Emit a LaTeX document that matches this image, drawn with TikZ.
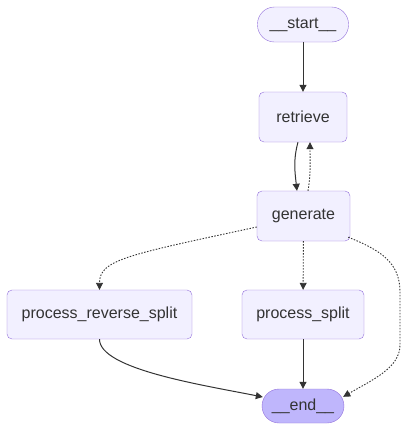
\documentclass[tikz,border=0pt]{standalone}
\usepackage{fontspec}
\setmainfont{Liberation Sans}
\usetikzlibrary{arrows.meta}
\definecolor{nodefill}{HTML}{F2F0FF}
\definecolor{nodeline}{HTML}{9370DB}
\definecolor{endfill}{HTML}{BFB6FC}
\definecolor{ink}{HTML}{333333}
\tikzset{
  box/.style={draw=nodeline, fill=nodefill, rounded corners=5pt, text=ink,
    font=\fontsize{16}{19}\selectfont, minimum height=50pt, inner sep=0pt},
  term/.style={box, rounded corners=17pt, minimum height=35pt},
  edge/.style={draw=ink, line width=1pt, -{Triangle[length=7pt,width=7pt]}},
  dotedge/.style={edge, line width=0.9pt, dash pattern=on 1.5pt off 1.5pt}
}
\begin{document}
\begin{tikzpicture}[x=1pt,y=-1pt]
\useasboundingbox (0,0) rectangle (408,432);
\node[term, minimum width=91pt] (start) at (303,24.5) {\_\_start\_\_};
\node[box, minimum width=88pt] (retrieve) at (303,117) {retrieve};
\node[box, minimum width=93pt] (generate) at (303.5,216) {generate};
\node[box, minimum width=185pt, minimum height=49pt] (revsplit) at (99.5,314.5) {process\_reverse\_split};
\node[box, minimum width=122pt, minimum height=49pt] (split) at (303,314.5) {process\_split};
\node[term, minimum width=82pt, fill=endfill, minimum height=34pt] (end) at (303,406) {\_\_end\_\_};

\draw[edge] (start) -- (retrieve);
\draw[edge] ([xshift=-5pt]retrieve.south) .. controls +(-5,18) and +(-2,-18) .. ([xshift=-6.5pt]generate.north);
\draw[dotedge] ([xshift=4.5pt]generate.north) .. controls +(3,-18) and +(0,18) .. ([xshift=7pt]retrieve.south);
\draw[dotedge] ([yshift=-11pt]generate.west) .. controls +(-130,28) and +(0,-30) .. (revsplit.north);
\draw[dotedge] (generate) -- (split);
\draw[dotedge] ([xshift=-2pt,yshift=4pt]generate.south east) .. controls (380,250) and (400,262) .. (400,292)
  -- (400,345) .. controls (400,368) and (372,380) .. ([xshift=-1pt,yshift=-8pt]end.north east);
\draw[edge] (revsplit.south) .. controls +(0,30) and +(-60,-12) .. ([xshift=1pt,yshift=9pt]end.west);
\draw[edge] (split) -- (end);
\end{tikzpicture}
\end{document}
